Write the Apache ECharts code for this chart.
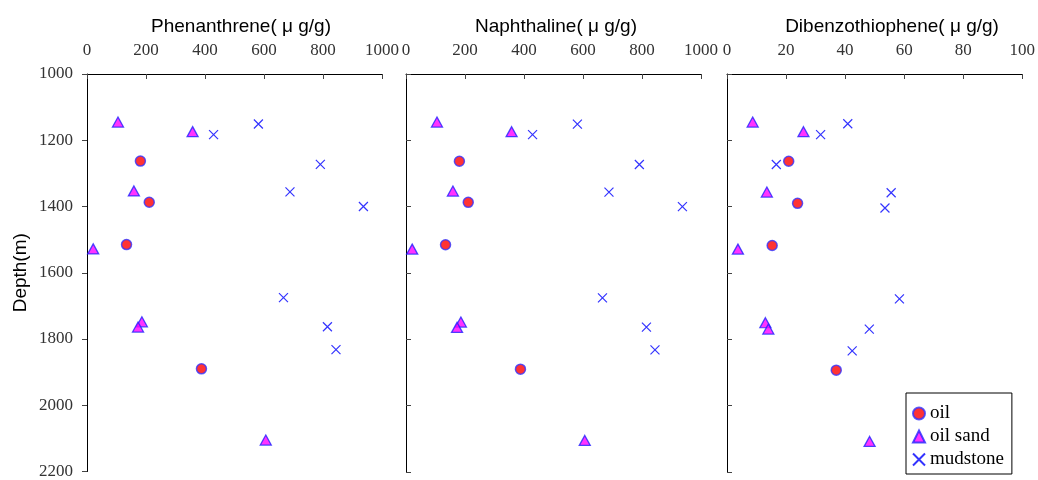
<!DOCTYPE html>
<html>
<head>
<meta charset="utf-8">
<script src="https://cdn.jsdelivr.net/npm/echarts@6/dist/echarts.min.js"></script>
<style>
  html, body { margin: 0; padding: 0; background: #fff; }
  #chart { width: 1038px; height: 480px; }
</style>
</head>
<body>
<div id="chart"></div>
<script>
// [value, depth]
const phenOil = [[181, 1263], [211, 1387], [134, 1515], [388, 1890]];
const phenSand = [[105, 1145], [358, 1174], [159, 1353], [21, 1528], [186, 1748], [173, 1764], [606, 2105]];
const phenMud = [[429, 1183], [581, 1151], [791, 1273], [688, 1356], [937, 1400], [666, 1675], [815, 1763], [844, 1832]];

const naphOil = [[181, 1263], [211, 1387], [134, 1515], [388, 1890]];
const naphSand = [[105, 1145], [358, 1174], [159, 1353], [21, 1528], [186, 1748], [173, 1764], [606, 2105]];
const naphMud = [[429, 1183], [581, 1151], [791, 1273], [688, 1356], [937, 1400], [666, 1675], [815, 1763], [844, 1832]];

const dbtOil = [[20.9, 1263], [23.9, 1390], [15.3, 1517], [37, 1893]];
const dbtSand = [[8.7, 1145], [25.9, 1174], [13.5, 1356], [3.7, 1528], [13, 1750], [14, 1769], [48.3, 2108]];
const dbtMud = [[31.7, 1183], [40.9, 1150], [16.7, 1273], [55.6, 1358], [53.5, 1404], [58.4, 1678], [48.2, 1769], [42.4, 1835]];

const panelTitles = ['Phenanthrene( μ g/g)', 'Naphthaline( μ g/g)', 'Dibenzothiophene( μ g/g)'];
const xMax = [1000, 1000, 100];
const xStep = [200, 200, 20];

const chart = echarts.init(document.getElementById('chart'));

const serif = 'Liberation Serif';
const sans = '"Liberation Sans", Arial';
const crossPath = 'path://M0,0L10,10M10,0L0,10';

const grids = [
  { left: 87, top: 74, width: 295, bottom: 8 },
  { left: 406, top: 74, width: 295, bottom: 8 },
  { left: 727, top: 74, width: 301, bottom: 8 }
];

const plain = (v) => String(v);

const xAxes = grids.map((g, i) => ({
  gridIndex: i,
  type: 'value',
  position: 'top',
  min: 0,
  max: xMax[i],
  interval: xStep[i],
  axisLine: { show: true, lineStyle: { color: '#000', width: 1 } },
  axisTick: { show: true, inside: true, length: 5, lineStyle: { color: '#444' } },
  axisLabel: { fontFamily: serif, fontSize: 17, color: '#333', margin: 15, formatter: plain },
  splitLine: { show: false }
}));

const yAxes = grids.map((g, i) => ({
  gridIndex: i,
  type: 'value',
  inverse: true,
  min: 1000,
  max: 2200,
  interval: 200,
  name: i === 0 ? 'Depth(m)' : '',
  nameLocation: 'middle',
  nameGap: 57,
  nameTextStyle: { fontFamily: sans, fontSize: 19, color: '#000' },
  axisLine: { show: true, lineStyle: { color: '#000', width: 1 } },
  axisTick: { show: true, inside: i !== 0, length: 5, lineStyle: { color: '#444' } },
  axisLabel: { show: i === 0, fontFamily: serif, fontSize: 17, color: '#333', margin: 14, formatter: plain },
  splitLine: { show: false }
}));

const sets = [
  [phenOil, phenSand, phenMud],
  [naphOil, naphSand, naphMud],
  [dbtOil, dbtSand, dbtMud]
];

const series = [];
sets.forEach((s, i) => {
  series.push({
    name: 'mudstone', type: 'scatter', xAxisIndex: i, yAxisIndex: i,
    symbol: crossPath, symbolSize: 9, data: s[2],
    itemStyle: { color: '#0000ff', borderColor: '#0000ff', borderWidth: 1.2 }
  });
  series.push({
    name: 'oil', type: 'scatter', xAxisIndex: i, yAxisIndex: i,
    symbol: 'circle', symbolSize: 10, data: s[0],
    itemStyle: { color: '#ff0000', borderColor: '#3333ff', borderWidth: 1.5 }
  });
  series.push({
    name: 'oil sand', type: 'scatter', xAxisIndex: i, yAxisIndex: i,
    symbol: 'triangle', symbolSize: [11, 10], data: s[1],
    itemStyle: { color: '#ff00ff', borderColor: '#2222ff', borderWidth: 1.3 }
  });
});

const titleCenters = [236, 551, 887];

const option = {
  animation: false,
  backgroundColor: '#fff',
  title: panelTitles.map((t, i) => ({
    text: t,
    left: titleCenters[i],
    top: 12,
    textAlign: 'center',
    textStyle: { fontFamily: sans, fontSize: 19, fontWeight: 'normal', color: '#000' }
  })),
  grid: grids,
  xAxis: xAxes,
  yAxis: yAxes,
  legend: {
    data: ['oil', 'oil sand', 'mudstone'],
    orient: 'vertical',
    left: 906,
    top: 393,
    padding: [11, 8, 5, 6],
    itemGap: 4,
    itemWidth: 12,
    itemHeight: 12,
    borderColor: '#000',
    borderWidth: 1,
    backgroundColor: '#fff',
    textStyle: { fontFamily: serif, fontSize: 19, color: '#000' }
  },
  series: series
};

chart.setOption(option);
</script>
</body>
</html>
